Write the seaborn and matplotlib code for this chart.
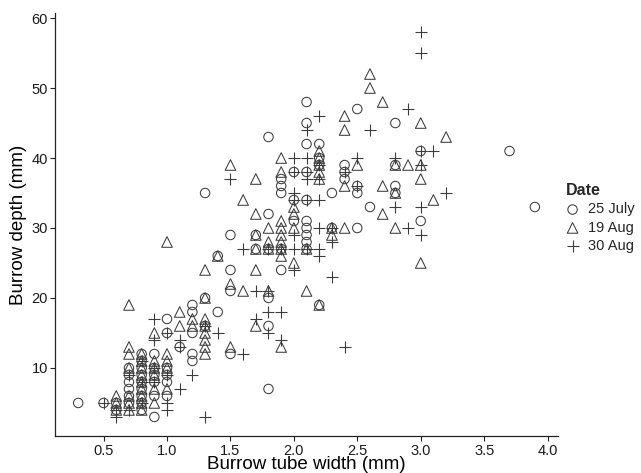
import matplotlib
matplotlib.use("Agg")
import matplotlib.pyplot as plt
import seaborn as sns
import pandas as pd

# Burrow measurements by sampling date: tube width (mm) and depth (mm)
july_width = [0.3, 0.5, 0.6, 0.6, 0.7, 0.7, 0.7, 0.7, 0.7, 0.7,
              0.8, 0.8, 0.8, 0.8, 0.8, 0.8, 0.8, 0.8, 0.8,
              0.9, 0.9, 0.9, 0.9, 0.9, 0.9,
              1.0, 1.0, 1.0, 1.0, 1.0, 1.0,
              1.1, 1.2, 1.2, 1.2, 1.2, 1.2, 1.3, 1.3, 1.4, 1.4, 1.3,
              1.5, 1.5, 1.5, 1.5,
              1.7, 1.7, 1.8, 1.8, 1.8, 1.8, 1.8, 1.8,
              1.9, 1.9, 1.9, 1.9, 1.9,
              2.0, 2.0, 2.0,
              2.1, 2.1, 2.1, 2.1, 2.1, 2.1, 2.1, 2.1, 2.1, 2.1,
              2.2, 2.2, 2.2, 2.2, 2.3, 2.3,
              2.4, 2.4, 2.4, 2.5, 2.5, 2.5, 2.5, 2.6,
              2.8, 2.8, 2.8, 2.8, 3.0, 3.0, 3.7, 3.9]
july_depth = [5, 5, 5, 4, 10, 9, 8, 7, 6, 5,
              12, 11, 10, 9, 8, 7, 6, 5, 4,
              12, 10, 9, 8, 6, 3,
              17, 15, 10, 9, 8, 6,
              13, 19, 18, 15, 12, 11, 16, 20, 18, 26, 35,
              29, 24, 21, 12,
              27, 29, 27, 32, 43, 20, 16, 7,
              37, 36, 35, 24, 27,
              38, 34, 31,
              48, 45, 42, 38, 34, 31, 30, 29, 28, 27,
              42, 40, 39, 19, 35, 30,
              39, 38, 37, 47, 36, 35, 30, 33,
              45, 39, 36, 35, 41, 31, 41, 33]

aug19_width = [0.6, 0.6, 0.6, 0.7, 0.7, 0.7, 0.7, 0.7, 0.7, 0.7,
               0.8, 0.8, 0.8, 0.8, 0.8, 0.8, 0.8, 0.8, 0.8,
               0.9, 0.9, 0.9, 0.9, 0.9, 0.9,
               1.0, 1.0, 1.0, 1.0, 1.0,
               1.1, 1.1, 1.2, 1.2, 1.3, 1.3, 1.3, 1.3, 1.3, 1.3, 1.3, 1.3,
               1.4, 1.5, 1.5, 1.5, 1.6, 1.6, 1.7, 1.7, 1.7, 1.7, 1.7, 1.7,
               1.8, 1.8, 1.8, 1.8,
               1.9, 1.9, 1.9, 1.9, 1.9, 1.9, 1.9, 1.9, 1.9,
               2.0, 2.0, 2.0, 2.0, 2.1, 2.1,
               2.2, 2.2, 2.2, 2.2, 2.2, 2.2, 2.3, 2.3,
               2.4, 2.4, 2.4, 2.4, 2.5,
               2.6, 2.6, 2.7, 2.7, 2.7, 2.8, 2.8, 2.8, 2.9,
               3.0, 3.0, 3.0, 3.0, 3.1, 3.2]
aug19_depth = [6, 5, 4, 19, 13, 12, 10, 6, 5, 4,
               12, 11, 10, 9, 8, 7, 6, 5, 4,
               15, 11, 10, 9, 7, 5,
               28, 12, 11, 10, 7,
               18, 16, 17, 16, 20, 17, 16, 15, 14, 13, 12, 24,
               26, 22, 13, 39, 34, 21, 37, 27, 29, 24, 16, 32,
               30, 28, 27, 21,
               40, 38, 31, 30, 29, 28, 27, 26, 13,
               33, 32, 30, 25, 27, 21,
               41, 40, 39, 38, 37, 19, 30, 29,
               46, 44, 36, 30, 39,
               52, 50, 48, 36, 32, 39, 35, 30, 39,
               45, 39, 37, 25, 34, 43]

aug30_width = [0.5, 0.6, 0.6, 0.7, 0.7, 0.8, 0.8, 0.8, 0.9, 0.9, 0.9, 0.9,
               1.0, 1.0, 1.0, 1.0, 1.1, 1.1, 1.1, 1.2, 1.3, 1.3, 1.4,
               1.5, 1.6, 1.6, 1.7, 1.7, 1.8, 1.8, 1.8, 1.8, 1.9, 1.9, 1.9,
               2.0, 2.0, 2.0, 2.0, 2.0, 2.0, 2.0,
               2.1, 2.1, 2.1, 2.1, 2.1, 2.1,
               2.2, 2.2, 2.2, 2.2, 2.2, 2.2, 2.2, 2.3, 2.3, 2.3,
               2.4, 2.4, 2.5, 2.5, 2.6, 2.8, 2.8, 2.9, 2.9,
               3.0, 3.0, 3.0, 3.0, 3.0, 3.0, 3.1, 3.2]
aug30_depth = [5, 4, 3, 9, 4, 11, 8, 5, 17, 14, 10, 8,
               15, 9, 5, 4, 14, 13, 7, 9, 3, 16, 15,
               37, 27, 12, 21, 17, 27, 21, 18, 15, 27, 18, 14,
               40, 38, 35, 34, 29, 27, 24,
               44, 40, 38, 37, 34, 27,
               46, 39, 37, 34, 30, 27, 26, 28, 30, 23,
               38, 13, 40, 36, 44, 40, 33, 47, 30,
               58, 55, 41, 39, 33, 29, 41, 35]

dates = ["25 July", "19 Aug", "30 Aug"]
df = pd.concat([
    pd.DataFrame({"width": july_width, "depth": july_depth, "Date": dates[0]}),
    pd.DataFrame({"width": aug19_width, "depth": aug19_depth, "Date": dates[1]}),
    pd.DataFrame({"width": aug30_width, "depth": aug30_depth, "Date": dates[2]}),
], ignore_index=True)

sns.set_theme(style="white")
plt.rcParams["font.family"] = ["Liberation Sans", "DejaVu Sans"]

ink = "#3c3c3c"
fig = plt.figure(figsize=(6.41, 4.73), dpi=100)
ax = fig.add_axes([55.4 / 641, 1 - 436.2 / 473, (557.7 - 55.4) / 641, (436.2 - 12.8) / 473])

styles = {
    "25 July": dict(marker="o", s=46, facecolor="none", edgecolor=ink, linewidth=0.75),
    "19 Aug": dict(marker="^", s=58, facecolor="none", edgecolor=ink, linewidth=0.75),
    "30 Aug": dict(marker="+", s=80, color=ink, linewidth=0.8),
}
for d in dates:
    sns.scatterplot(data=df[df["Date"] == d], x="width", y="depth", ax=ax,
                    label=d, legend=False, **styles[d])

ax.set_xlim(0.12, 4.08)
ax.set_ylim(0.25, 60.75)
ax.set_xticks([0.5, 1.0, 1.5, 2.0, 2.5, 3.0, 3.5, 4.0])
ax.set_yticks([10, 20, 30, 40, 50, 60])
ax.set_xlabel("Burrow tube width (mm)", fontsize=13.5, color="black", labelpad=-1)
ax.set_ylabel("Burrow depth (mm)", fontsize=13.5, color="black", labelpad=3)

for side in ["top", "right"]:
    ax.spines[side].set_visible(False)
for side in ["left", "bottom"]:
    ax.spines[side].set_color("#222222")
    ax.spines[side].set_linewidth(0.9)
ax.tick_params(axis="both", which="major", direction="out", length=3.5, width=0.8,
               color="#222222", labelsize=10.5, labelcolor="#1a1a1a", pad=2,
               bottom=True, left=True)

leg = ax.legend(title="Date", loc="upper left", bbox_to_anchor=(566 / 641, 1 - 183 / 473),
                bbox_transform=fig.transFigure, frameon=False, fontsize=10.5,
                title_fontsize=11.5, handlelength=0.9, handletextpad=0.6,
                labelspacing=0.3, borderpad=0, borderaxespad=0)
leg.get_title().set_fontweight("bold")
leg._legend_box.align = "left"

fig.savefig("out.png", dpi=100)
